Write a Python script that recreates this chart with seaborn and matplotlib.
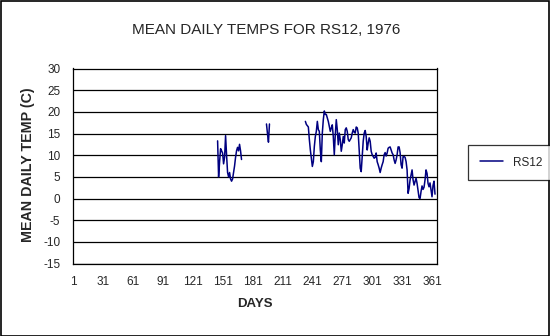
import numpy as np
import pandas as pd
import matplotlib
matplotlib.use("Agg")
import matplotlib.pyplot as plt
from matplotlib.lines import Line2D
from matplotlib.patches import Rectangle
import seaborn as sns

# ---- data ----
title = "MEAN DAILY TEMPS FOR RS12, 1976"
x_label = "DAYS"
y_label = "MEAN DAILY TEMP (C)"
series_name = "RS12"

x_ticks = [1, 31, 61, 91, 121, 151, 181, 211, 241, 271, 301, 331, 361]
y_ticks = [-15, -10, -5, 0, 5, 10, 15, 20, 25, 30]

seg1_start = 146
seg1_temps = [13.3, 5.0, 8.5, 11.5, 11.0, 10.5, 8.0, 9.5, 14.5, 10.0,
              6.0, 5.0, 6.0, 4.5, 4.0, 4.5, 6.0, 7.5, 9.5, 11.0,
              11.8, 11.0, 12.5, 11.0, 9.0]

seg2_start = 195
seg2_temps = [17.2, 15.0, 13.0, 17.2]

seg3_start = 234
seg3_temps = [17.8, 17.1, 16.8, 16.5, 13.6, 11.2, 9.3, 7.4, 8.5, 12.0,
              14.3, 15.5, 17.8, 15.9, 15.5, 11.2, 8.5, 15.1, 18.2, 20.2,
              19.4, 19.4, 18.6, 17.8, 16.7, 15.5, 16.3, 17.0, 14.3, 10.1,
              14.7, 18.2, 15.9, 12.4, 15.1, 13.6, 10.9, 12.4, 14.3, 12.8,
              15.9, 16.3, 15.5, 13.6, 13.2, 13.6, 14.0, 15.1, 15.9, 15.3,
              15.1, 16.5, 16.3, 15.1, 10.9, 7.0, 6.2, 9.7, 13.2, 15.1,
              15.7, 14.3, 11.2, 12.8, 14.0, 13.2, 10.9, 10.1, 9.7,
              9.3, 9.5, 10.5, 8.5, 7.8, 7.0, 6.0, 7.0,
              7.8, 8.5, 10.1, 10.6, 9.8, 10.5, 11.6, 11.8,
              11.9, 11.2, 10.5, 10.1, 8.9, 8.1, 8.9, 10.1, 11.9,
              11.9, 10.6, 7.8, 7.0, 9.7, 9.7, 9.5, 8.5, 6.6, 1.2,
              2.3, 4.3, 5.4, 6.6, 4.3, 3.1, 3.9, 4.7, 3.5, 1.9,
              0.2, 0.0, 1.6, 2.9, 2.1, 2.6, 4.3, 6.6, 5.8, 3.5,
              2.7, 3.6, 2.0, 0.4, 3.0, 4.0, 1.0]

# ---- build table ----
frames = []
for i, (start, temps) in enumerate([(seg1_start, seg1_temps),
                                    (seg2_start, seg2_temps),
                                    (seg3_start, seg3_temps)]):
    frames.append(pd.DataFrame({"day": np.arange(start, start + len(temps)),
                                "temp": temps, "seg": i}))
df = pd.concat(frames, ignore_index=True)

# ---- style ----
sns.set_style("white")
plt.rcParams["font.family"] = ["Liberation Sans", "DejaVu Sans"]
plt.rcParams["axes.unicode_minus"] = False

navy = "#000080"
W, H = 550, 336
fig = plt.figure(figsize=(W / 100, H / 100), dpi=100)
left, right, top, bottom = 73, 437, 68.5, 263.5
ax = fig.add_axes([left / W, 1 - bottom / H, (right - left) / W, (bottom - top) / H])

sns.lineplot(data=df, x="day", y="temp", units="seg", estimator=None,
             color=navy, linewidth=1.1, ax=ax)

ax.set_xlim(1, 366)
ax.set_ylim(-15, 30)
ax.set_xticks(x_ticks)
ax.set_yticks(y_ticks)
ax.set_xticklabels([str(t) for t in x_ticks], fontsize=8.5)
ax.set_yticklabels([str(t) for t in y_ticks], fontsize=8.5)
ax.tick_params(direction="out", length=4, width=0.8, color="black", pad=5)
ax.grid(axis="y", color="black", linewidth=0.9)
ax.set_axisbelow(True)
for s in ax.spines.values():
    s.set_visible(True)
    s.set_color("black")
    s.set_linewidth(0.9)
ax.set_xlabel("")
ax.set_ylabel("")

fig.text(266 / W, 1 - 30 / H, title, ha="center", va="center", fontsize=11)
fig.text(255 / W, 1 - 304 / H, x_label, ha="center", va="center",
         fontsize=9.5, fontweight="bold")
fig.text(28 / W, 1 - 165 / H, y_label, ha="center", va="center",
         fontsize=10.3, fontweight="bold", rotation=90)

handle = Line2D([0], [0], color=navy, linewidth=1.1)
leg = fig.legend([handle], [series_name], loc="center left",
                 bbox_to_anchor=(468 / W, 1 - 162.5 / H), frameon=True,
                 fancybox=False, edgecolor="black", fontsize=8.5,
                 handlelength=2.0, borderpad=1.0, borderaxespad=0)
leg.get_frame().set_linewidth(0.9)

fig.patches.append(Rectangle((0.5 / W, 0.5 / H), (W - 1.5) / W, (H - 1.5) / H,
                             transform=fig.transFigure, fill=False,
                             edgecolor="black", linewidth=1.2))

fig.savefig("out.png", dpi=100)
